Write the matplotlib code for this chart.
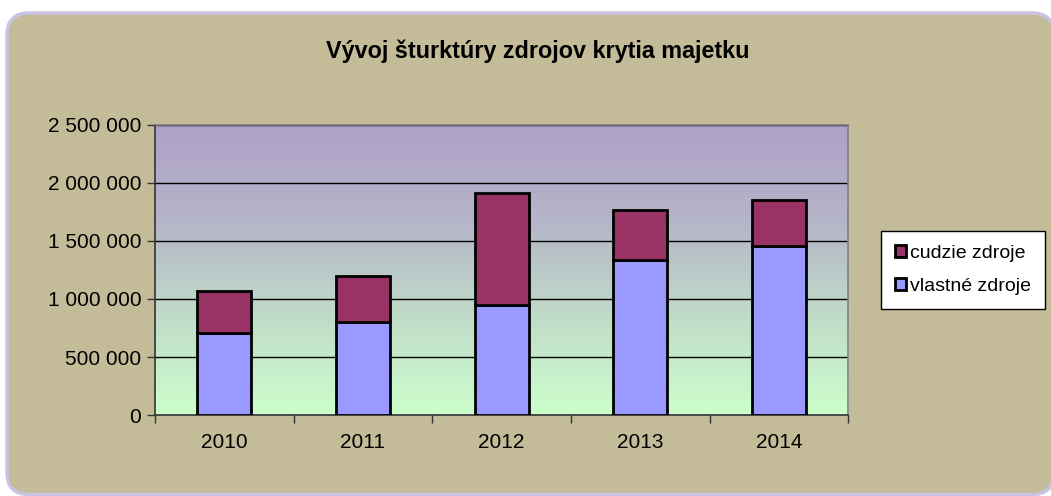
import numpy as np
import matplotlib.pyplot as plt
from matplotlib.patches import FancyBboxPatch
from matplotlib.colors import LinearSegmentedColormap
from matplotlib.ticker import FuncFormatter

# data
years = ['2010', '2011', '2012', '2013', '2014']
vlastne = [704000, 804000, 948000, 1336000, 1457000]
cudzie = [365000, 397000, 963000, 429000, 396000]
labels = ['vlastné zdroje', 'cudzie zdroje']

plt.rcParams['font.family'] = ['Liberation Sans', 'DejaVu Sans']

fig = plt.figure(figsize=(10.51, 4.96), dpi=100)
fig.patch.set_facecolor('white')

# rounded khaki panel (inches)
panel = FancyBboxPatch((0.07, 0.015), 10.47, 4.815,
                       boxstyle='round,pad=0,rounding_size=0.22',
                       transform=fig.dpi_scale_trans, facecolor='#C4BC98',
                       edgecolor='#CBC3E3', linewidth=2.5, zorder=-5)
fig.patches.append(panel)

ax = fig.add_axes([0.1475, 0.1633, 0.6595, 0.5847])
ax.set_zorder(1)
ax.set_facecolor('none')

x = np.arange(len(years))
ymax = 2500000

# gradient background of plot area
cmap = LinearSegmentedColormap.from_list('bg', ['#CCFFCC', '#C0DCC8', '#B5B5C8', '#AFA0C9'])
grad = np.linspace(0, 1, 256).reshape(-1, 1)
ax.imshow(grad, extent=(-0.5, 4.5, 0, ymax), origin='lower', aspect='auto',
          cmap=cmap, zorder=0)

for v in range(500000, 2500001, 500000):
    ax.axhline(v, color='black', linewidth=1, zorder=1)

w = 0.39
ax.bar(x, vlastne, w, color='#9999FF', edgecolor='black', linewidth=2,
       label=labels[0], zorder=3)
ax.bar(x, cudzie, w, bottom=vlastne, color='#993366', edgecolor='black',
       linewidth=2, label=labels[1], zorder=3)

ax.set_xlim(-0.5, 4.5)
ax.set_ylim(0, ymax)
ax.set_yticks(range(0, 2500001, 500000))
ax.yaxis.set_major_formatter(FuncFormatter(lambda v, p: f'{int(v):,}'.replace(',', ' ')))
ax.set_xticks(x)
ax.set_xticklabels(years)
ax.set_xticks(np.arange(-0.5, 5, 1), minor=True)
ax.tick_params(axis='x', which='major', length=0, pad=13, labelsize=15)
ax.tick_params(axis='x', which='minor', length=6, width=1, direction='out', color='#333333')
ax.tick_params(axis='y', length=6, width=1, direction='out', color='#333333',
               labelsize=15, pad=4)

for side in ['left', 'bottom']:
    ax.spines[side].set_color('#333333')
    ax.spines[side].set_linewidth(1.2)
for side in ['top', 'right']:
    ax.spines[side].set_color('#808080')
    ax.spines[side].set_linewidth(1.2)

fig.text(0.512, 0.897, 'Vývoj šturktúry zdrojov krytia majetku', ha='center',
         va='center', fontsize=16.8, fontweight='bold')

handles, labs = ax.get_legend_handles_labels()
leg = fig.legend(handles[::-1], labs[::-1], loc='center left',
                 bbox_to_anchor=(0.829, 0.456), fontsize=14, frameon=True,
                 fancybox=False, edgecolor='black', framealpha=1,
                 handlelength=0.6, handleheight=0.6, handletextpad=0.2,
                 labelspacing=0.85, borderpad=0.7)
leg.get_frame().set_linewidth(1)

fig.savefig('out.png', dpi=100)
